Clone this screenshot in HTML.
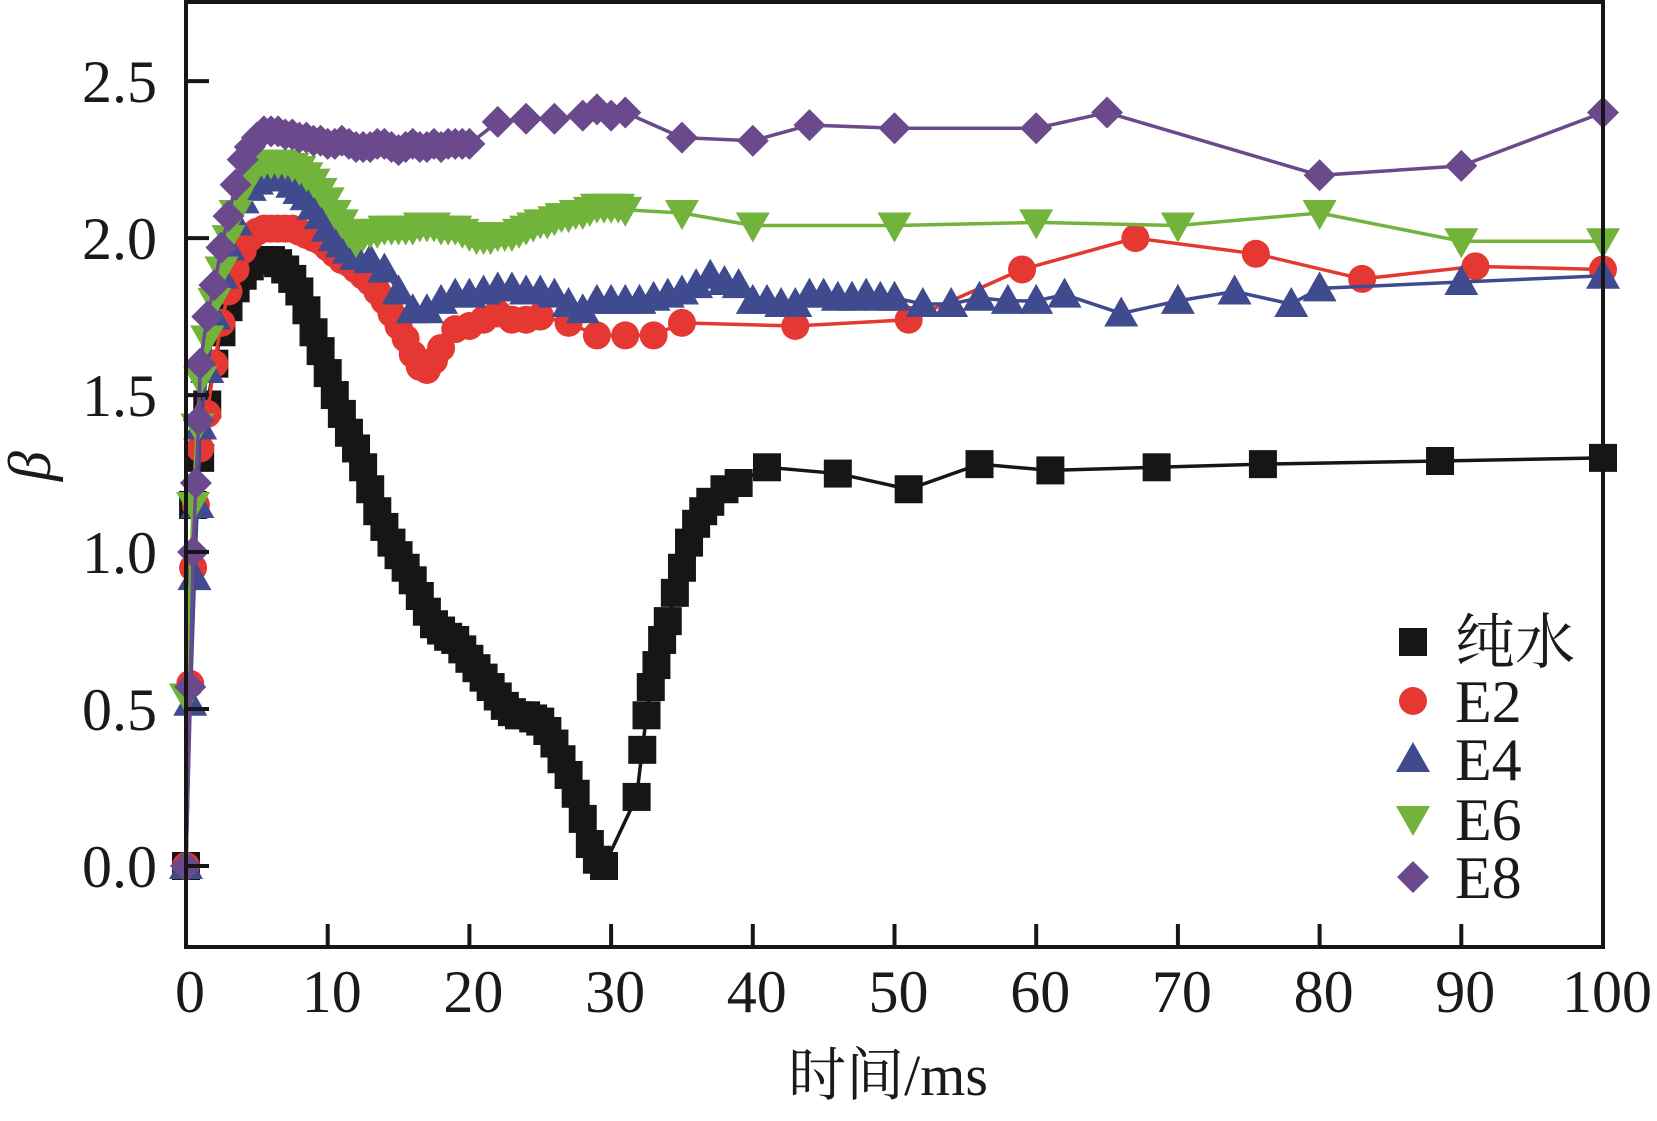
<!DOCTYPE html>
<html><head><meta charset="utf-8"><style>
html,body{margin:0;padding:0;background:#fff}
svg text{font-family:"Liberation Serif","Noto Serif CJK SC",serif;fill:#1a1a1a}
</style></head><body>
<svg id="chart" width="1657" height="1116" viewBox="0 0 1657 1116" xmlns="http://www.w3.org/2000/svg">
<g id="plot"></g>
<g id="axes"></g>
<g id="legend"></g>
</svg>
<script>
const xTicks=[0,10,20,30,40,50,60,70,80,90,100];
const yTicks=[0.0,0.5,1.0,1.5,2.0,2.5];
const yTickLabels=["0.0","0.5","1.0","1.5","2.0","2.5"];
const seriesNames=["纯水","E2","E4","E6","E8"];
const waterT=[0,0.5,1,1.5,2,2.5,3,3.5,4,4.5,5,5.5,6,6.5,7,7.5,8,8.5,9,9.5,10,10.5,11,11.5,12,12.5,13,13.5,14,14.5,15,15.5,16,16.5,17,17.5,18,18.5,19,19.5,20,20.5,21,21.5,22,22.5,23,23.5,24,24.5,25,25.5,26,26.5,27,27.5,28,28.5,29,29.5,31.8,32.2,32.5,32.8,33.2,33.6,34,34.5,35,35.5,36,36.5,37,38,39,41,46,51,56,61,68.5,76,88.5,100];
const waterV=[0,1.15,1.3,1.47,1.6,1.7,1.78,1.84,1.88,1.91,1.93,1.93,1.93,1.92,1.9,1.87,1.83,1.77,1.7,1.64,1.57,1.5,1.44,1.38,1.33,1.27,1.2,1.13,1.08,1.03,0.99,0.95,0.91,0.86,0.81,0.77,0.75,0.73,0.72,0.69,0.66,0.63,0.6,0.57,0.54,0.51,0.49,0.48,0.48,0.47,0.46,0.43,0.39,0.34,0.29,0.23,0.15,0.07,0.02,0.0,0.22,0.37,0.48,0.57,0.64,0.72,0.78,0.87,0.95,1.03,1.09,1.13,1.16,1.2,1.22,1.27,1.25,1.2,1.28,1.26,1.27,1.28,1.29,1.3];
const e2T=[0,0.3,0.5,0.7,1,1.5,2,2.5,3,3.5,4,4.5,5,5.5,6,6.5,7,7.5,8,8.5,9,9.5,10,10.5,11,11.5,12,12.5,13,13.5,14,14.5,15,15.5,16,16.5,17,17.5,18,19,20,21,22,23,24,25,27,29,31,33,35,43,51,59,67,75.5,83,91,100];
const e2V=[0,0.58,0.95,1.15,1.33,1.44,1.6,1.73,1.83,1.9,1.96,2.0,2.02,2.03,2.03,2.03,2.03,2.03,2.02,2.01,2.0,1.99,1.97,1.95,1.93,1.92,1.9,1.88,1.86,1.83,1.8,1.76,1.72,1.68,1.63,1.59,1.58,1.61,1.65,1.71,1.72,1.74,1.76,1.74,1.74,1.75,1.73,1.69,1.69,1.69,1.73,1.72,1.74,1.9,2.0,1.95,1.87,1.91,1.9];
const e4T=[0,0.3,0.6,0.8,1,1.5,2,2.5,3,3.5,4,4.5,5,5.5,6,6.5,7,7.5,8,8.5,9,9.5,10,10.5,11,11.5,12,13,14,15,16,17,18,19,20,21,22,23,24,25,26,27,28,29,30,31,32,33,34,35,36,37,38,39,40,41,42,43,44,45,46,47,48,49,50,52,54,56,58,60,62,66,70,74,78,80,90,100];
const e4V=[0,0.52,0.92,1.15,1.4,1.58,1.75,1.88,1.97,2.05,2.12,2.16,2.18,2.19,2.2,2.2,2.19,2.17,2.15,2.13,2.1,2.07,2.03,2.0,1.98,1.96,1.94,1.93,1.9,1.83,1.77,1.77,1.8,1.82,1.82,1.83,1.84,1.84,1.83,1.83,1.82,1.79,1.77,1.8,1.8,1.8,1.8,1.81,1.82,1.83,1.85,1.88,1.86,1.85,1.8,1.8,1.79,1.79,1.82,1.82,1.81,1.81,1.82,1.81,1.81,1.79,1.79,1.81,1.8,1.8,1.82,1.76,1.8,1.83,1.79,1.84,1.86,1.88];
const e6T=[0,0.5,0.8,1,1.5,2,2.5,3,3.5,4,4.5,5,5.5,6,6.5,7,7.5,8,8.5,9,9.5,10,10.5,11,11.5,12,12.5,13,13.5,14,14.5,15,15.5,16,16.5,17,17.5,18,18.5,19,19.5,20,20.5,21,21.5,22,22.5,23,23.5,24,24.5,25,25.5,26,26.5,27,27.5,28,28.5,29,29.5,30,30.5,31,35,40,50,60,70,80,90,100];
const e6V=[0.54,1.15,1.4,1.55,1.68,1.8,1.9,2.0,2.08,2.15,2.2,2.23,2.24,2.24,2.24,2.24,2.23,2.22,2.2,2.18,2.15,2.12,2.08,2.05,2.02,1.99,2.01,2.02,2.02,2.03,2.03,2.03,2.03,2.03,2.04,2.04,2.04,2.03,2.03,2.03,2.02,2.01,2.0,2.0,2.0,2.01,2.01,2.01,2.02,2.03,2.04,2.05,2.05,2.06,2.07,2.07,2.08,2.08,2.09,2.1,2.1,2.1,2.1,2.09,2.08,2.04,2.04,2.05,2.04,2.08,1.99,1.99];
const e8T=[0,0.3,0.5,0.7,0.9,1,1.5,2,2.5,3,3.5,4,4.5,5,5.5,6,6.5,7,7.5,8,8.5,9,9.5,10,10.5,11,11.5,12,12.5,13,13.5,14,14.5,15,15.5,16,16.5,17,17.5,18,18.5,19,19.5,20,22,24,26,28,29,30,31,35,40,44,50,60,65,80,90,100];
const e8V=[0,0.57,1.0,1.22,1.42,1.6,1.75,1.85,1.97,2.07,2.17,2.25,2.29,2.32,2.34,2.34,2.34,2.33,2.33,2.32,2.32,2.31,2.31,2.3,2.3,2.31,2.3,2.29,2.29,2.29,2.3,2.3,2.29,2.28,2.29,2.3,2.29,2.29,2.3,2.29,2.3,2.3,2.3,2.3,2.37,2.38,2.38,2.39,2.41,2.39,2.4,2.32,2.31,2.36,2.35,2.35,2.4,2.2,2.23,2.4];

const NS="http://www.w3.org/2000/svg";
const L=186,R=1603,T=2,B=947;
const xMin=0,xMax=100,yMin=-0.258,yMax=2.752;
function xs(v){return L+(v-xMin)/(xMax-xMin)*(R-L);}
function ys(v){return B-(v-yMin)/(yMax-yMin)*(B-T);}
function mk(tag,attrs,parent){const e=document.createElementNS(NS,tag);for(const k in attrs)e.setAttribute(k,attrs[k]);parent.appendChild(e);return e;}
const plot=document.getElementById('plot'),axes=document.getElementById('axes'),legend=document.getElementById('legend');

function marker(type,cx,cy,color,parent){
  let e;const s=14;
  if(type==='square')e=mk('rect',{x:cx-s,y:cy-s,width:2*s,height:2*s,fill:color},parent);
  else if(type==='circle')e=mk('circle',{cx:cx,cy:cy,r:14,fill:color},parent);
  else if(type==='up')e=mk('polygon',{points:`${cx},${cy-17} ${cx+17},${cy+13} ${cx-17},${cy+13}`,fill:color},parent);
  else if(type==='down')e=mk('polygon',{points:`${cx},${cy+17} ${cx+17},${cy-13} ${cx-17},${cy-13}`,fill:color},parent);
  else e=mk('polygon',{points:`${cx},${cy-16} ${cx+16},${cy} ${cx},${cy+16} ${cx-16},${cy}`,fill:color},parent);
  return e;
}
const series=[
 {name:'water',t:waterT,v:waterV,c:'#161616',m:'square'},
 {name:'e2',t:e2T,v:e2V,c:'#e53832',m:'circle'},
 {name:'e4',t:e4T,v:e4V,c:'#3f4b8e',m:'up'},
 {name:'e6',t:e6T,v:e6V,c:'#72b33c',m:'down'},
 {name:'e8',t:e8T,v:e8V,c:'#6a4a8c',m:'diamond'}
];
series.forEach(s=>{
  const g=mk('g',{},plot);
  
  
  const pts=s.t.map((t,i)=>xs(t)+','+ys(s.v[i])).join(' ');
  const line=mk('polyline',{points:pts,fill:'none',stroke:s.c,'stroke-width':3.5},g);
  
  
  s.t.forEach((t,i)=>{
    const m=marker(s.m,xs(t),ys(s.v[i]),s.c,g);
    
    
  });
});
const fr=mk('rect',{x:L,y:T,width:R-L,height:B-T,fill:'none',stroke:'#161616','stroke-width':4},axes);


xTicks.forEach(v=>{
  const t=mk('line',{x1:xs(v),x2:xs(v),y1:B,y2:B-23,stroke:'#161616','stroke-width':4},axes);
  
  
  const tx=mk('text',{x:xs(v)+4,y:1012,'text-anchor':'middle','font-size':60},axes);
  tx.textContent=v;
  
  
});
yTicks.forEach((v,i)=>{
  const t=mk('line',{x1:L,x2:L+23,y1:ys(v),y2:ys(v),stroke:'#161616','stroke-width':4},axes);
  
  
  const tx=mk('text',{x:157,y:ys(v)+21,'text-anchor':'end','font-size':60},axes);
  tx.textContent=yTickLabels[i];
  
  
});
const yt=mk('text',{x:62,y:478,'text-anchor':'middle','font-size':60,'font-style':'italic',transform:'rotate(-90 50 478)'},axes);
yt.textContent='β';


const xt=mk('text',{x:888,y:1095,'text-anchor':'middle','font-size':58},axes);
xt.textContent='时间/ms';


const legY=[642,701,759,819,877];
series.forEach((s,i)=>{
  const g=mk('g',{},legend);
  
  
  marker(s.m,1413,legY[i],s.c,g);
  const tx=mk('text',{x:1455,y:legY[i]+21,'font-size':60},g);
  tx.textContent=seriesNames[i];
});
</script>
</body></html>
